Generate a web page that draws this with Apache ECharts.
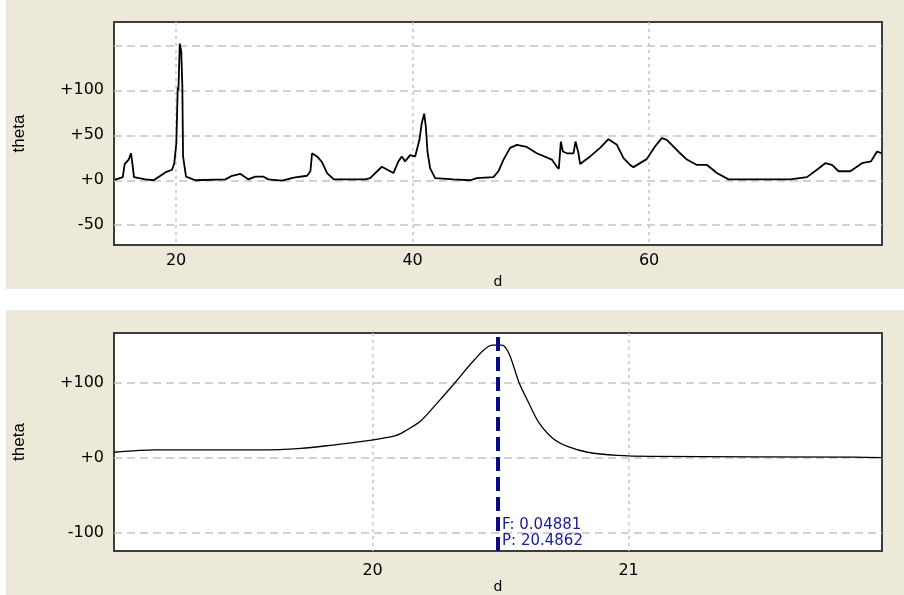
<!DOCTYPE html>
<html>
<head>
<meta charset="utf-8">
<script src="https://cdn.jsdelivr.net/npm/echarts@6/dist/echarts.min.js"></script>
<style>
  html, body { margin: 0; padding: 0; background: #fff; }
  #main { width: 904px; height: 595px; }
</style>
</head>
<body>
<div id="main"></div>
<script>
// top panel: full scan
var topD = [14.8, 15.49, 15.65, 15.99, 16.19, 16.33, 16.44, 17.4, 18.1, 19.09, 19.66, 19.85,
  20.02, 20.14, 20.2, 20.31, 20.44, 20.53, 20.59, 20.84, 21.63, 24.17, 24.73, 25.44, 26.1, 26.7,
  27.4, 27.8, 28.96, 29.95, 31.08, 31.36, 31.5, 31.92, 32.35, 32.77, 33.34, 36.0, 36.41,
  37.4, 38.38, 38.8, 39.09, 39.37, 39.79, 40.22, 40.58, 40.78, 40.98, 41.12, 41.26, 41.48,
  41.91, 43.46, 44.87, 45.43, 46.84, 47.26, 47.69, 48.25, 48.82, 49.66, 50.5, 51.78, 52.2,
  52.37, 52.54, 52.71, 53.05, 53.61, 53.78, 54.03, 54.17, 55.02, 55.86, 56.57, 57.28, 57.84,
  58.4, 58.68, 59.8, 60.5, 61.08, 61.5, 62.63, 63.2, 64.05, 64.9, 65.74, 66.72, 71.94, 73.35,
  74.2, 74.9, 75.47, 76.03, 77.02, 78.0, 78.77, 79.28, 79.7];
var topTheta = [0.5, 3.5, 18, 23, 30, 16, 3.5, 1, 0, 8.7, 11.7, 19,
  41, 103, 100, 152, 143, 104, 26.5, 4, 0, 1, 5, 7, 1, 4,
  4, 1, -0.5, 3, 5, 10, 30, 26.5, 20, 8, 1, 1, 2.4,
  15, 8, 21, 26.5, 21, 28, 26.5, 45, 63.5, 74, 60, 32, 13.5,
  2.4, 1, 0, 2.4, 3.5, 10, 23, 36, 39.4, 37, 30, 23, 15,
  12.8, 43, 32, 30, 30, 43, 30, 18, 26.5, 36, 45.7, 39.4, 24.7,
  17, 14.6, 23.5, 37.6, 46.9, 45, 30, 23, 17, 17, 8, 1, 1, 3.5,
  11.7, 19, 17, 10, 10, 19, 21, 32, 30];

// bottom panel: zoom on the main peak
var botD = [18.99, 19.154, 19.556, 19.72, 19.844, 19.997, 20.093, 20.131, 20.189, 20.247,
  20.323, 20.40, 20.467, 20.505, 20.534, 20.572, 20.61, 20.649, 20.706, 20.764, 20.84,
  20.955, 21.09, 21.885, 21.99];
var botTheta = [6.9, 10, 10, 12, 16.5, 23, 29.4, 36, 49, 70.5,
  100, 131, 149.8, 149.8, 137.7, 100, 72.7, 46.8, 25, 14.3, 6.9,
  2.6, 1.3, 0.5, -0.2];

var topXTicks = [20, 40, 60];
var topYTicks = [-50, 0, 50, 100, 150];
var topYLabels = [-50, 0, 50, 100];
var botXTicks = [20, 21];
var botYTicks = [-100, 0, 100];

var markerD = 20.4862;
var markerF = 0.04881;

function pairs(xs, ys) {
  return xs.map(function (x, i) { return [x, ys[i]]; });
}
function signed(v) {
  return v > 0 ? '+' + v : (v === 0 ? '+0' : String(v));
}

var beige = '#ECE9D8';
var tickFont = { fontFamily: 'DejaVu Sans', fontSize: 16, color: '#000' };

function xAxisOpt(min, max, ticks, gap, margin) {
  return {
    type: 'value', min: min, max: max,
    name: 'd', nameLocation: 'middle', nameGap: gap,
    nameTextStyle: { fontFamily: 'DejaVu Sans', fontSize: 14, color: '#000' },
    axisLine: { show: false },
    axisTick: { show: false, customValues: ticks },
    axisLabel: Object.assign({ customValues: ticks, margin: margin }, tickFont),
    splitLine: { show: true, lineStyle: { color: '#c4c4c4', width: 1.5, type: [3, 4] } }
  };
}
function yAxisOpt(min, max, ticks, labels) {
  return {
    type: 'value', min: min, max: max,
    name: 'theta', nameLocation: 'middle', nameGap: 86, nameRotate: 90,
    nameTextStyle: { fontFamily: 'Liberation Sans', fontSize: 17, color: '#000' },
    axisLine: { show: false },
    axisTick: { show: false, customValues: ticks },
    axisLabel: Object.assign({ customValues: labels, margin: 10, formatter: signed }, tickFont),
    splitLine: { show: true, lineStyle: { color: '#c4c4c4', width: 1.5, type: [8, 5] } }
  };
}

var chart = echarts.init(document.getElementById('main'));
chart.setOption({
  backgroundColor: '#fff',
  animation: false,
  graphic: [
    { type: 'rect', z: -10, shape: { x: 6, y: 0, width: 898, height: 289 }, style: { fill: beige } },
    { type: 'rect', z: -10, shape: { x: 6, y: 310, width: 898, height: 285 }, style: { fill: beige } }
  ],
  grid: [
    { left: 114, top: 22, width: 768, height: 223, show: true, backgroundColor: '#fff',
      borderColor: '#3c3c3c', borderWidth: 2 },
    { left: 114, top: 333, width: 768, height: 224, show: true, backgroundColor: '#fff',
      borderColor: '#3c3c3c', borderWidth: 2 }
  ],
  xAxis: [
    Object.assign(xAxisOpt(14.75, 79.7, topXTicks, 30, 8), { gridIndex: 0 }),
    Object.assign(xAxisOpt(18.99, 21.99, botXTicks, 28, 12), { gridIndex: 1 })
  ],
  yAxis: [
    Object.assign(yAxisOpt(-72, 176, topYTicks, topYLabels), { gridIndex: 0 }),
    Object.assign(yAxisOpt(-125, 166, botYTicks, botYTicks), { gridIndex: 1 })
  ],
  series: [
    {
      type: 'line', xAxisIndex: 0, yAxisIndex: 0,
      data: pairs(topD, topTheta),
      symbol: 'none',
      lineStyle: { color: '#000', width: 1.8 }
    },
    {
      type: 'line', xAxisIndex: 1, yAxisIndex: 1,
      data: pairs(botD, botTheta),
      symbol: 'none', smooth: 0.3,
      lineStyle: { color: '#000', width: 1.3 },
      markLine: {
        silent: true, symbol: ['none', 'none'],
        label: { show: false },
        lineStyle: { color: '#0a0a8a', width: 4, type: [14, 6] },
        data: [{ xAxis: markerD }]
      },
      markPoint: {
        silent: true, symbol: 'circle', symbolSize: 0,
        data: [{ coord: [markerD, -101] }],
        label: {
          show: true, position: 'right', distance: 5,
          formatter: 'F: ' + markerF + '\nP: ' + markerD,
          fontFamily: 'DejaVu Sans', fontSize: 15, lineHeight: 16, color: '#1a1aa0'
        }
      }
    }
  ]
});
</script>
</body>
</html>
